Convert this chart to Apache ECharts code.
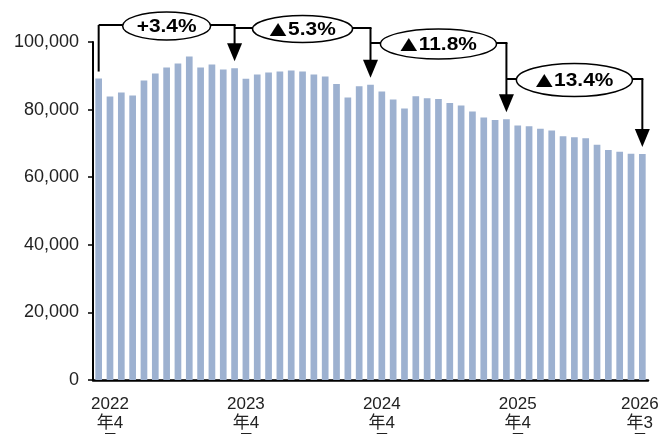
<!DOCTYPE html>
<html>
<head>
    <meta charset="utf-8">
    <title>月次推移</title>
    <style>
        html, body { margin: 0; padding: 0; background: #fff; }
        #chart { width: 659px; height: 434px; }
    </style>
</head>
<body>
<div id="chart"></div>
<script src="https://cdn.jsdelivr.net/npm/echarts@6/dist/echarts.min.js"></script>
<script>
    // 月（2022年3月〜2026年3月）
    var months = [
        '2022年3月', '2022年4月', '2022年5月', '2022年6月', '2022年7月', '2022年8月', '2022年9月',
        '2022年10月', '2022年11月', '2022年12月', '2023年1月', '2023年2月', '2023年3月',
        '2023年4月', '2023年5月', '2023年6月', '2023年7月', '2023年8月', '2023年9月',
        '2023年10月', '2023年11月', '2023年12月', '2024年1月', '2024年2月', '2024年3月',
        '2024年4月', '2024年5月', '2024年6月', '2024年7月', '2024年8月', '2024年9月',
        '2024年10月', '2024年11月', '2024年12月', '2025年1月', '2025年2月', '2025年3月',
        '2025年4月', '2025年5月', '2025年6月', '2025年7月', '2025年8月', '2025年9月',
        '2025年10月', '2025年11月', '2025年12月', '2026年1月', '2026年2月', '2026年3月'
    ];
    var values = [
        89190, 83850, 85040, 84150, 88590, 90670, 92440, 93630, 95700, 92440, 93330, 91850, 92240,
        89100, 90370, 90960, 91260, 91560, 91260, 90370, 89780, 87600, 83560, 86900, 87350,
        85330, 82960, 80300, 83940, 83350, 83170, 81980, 81190, 79410, 77630, 76950, 77130,
        75260, 75050, 74370, 73780, 72090, 71790, 71500, 69630, 68060, 67560, 66960, 66870
    ];
    var shownLabels = ['2022年4月', '2023年4月', '2024年4月', '2025年4月', '2026年3月'];
    var yTicks = [0, 20000, 40000, 60000, 80000, 100000];

    // 前年同月比
    var changeFrom = [0, 12, 24, 36];
    var changeTo = [12, 24, 36, 48];
    var changeText = ['+3.4%', '▲5.3%', '▲11.8%', '▲13.4%'];

    var myChart = echarts.init(document.getElementById('chart'));

    var option = {
        animation: false,
        grid: { left: 93, right: 11, top: 42, bottom: 54, outerBoundsMode: 'none' },
        xAxis: {
            type: 'category',
            data: months,
            axisLine: { lineStyle: { color: '#000', width: 2.5 } },
            axisTick: { show: false },
            axisLabel: {
                interval: function (i, v) { return shownLabels.indexOf(v) >= 0; },
                formatter: function (v, i) {
                    var p = v.split('年');
                    var lines = [p[0], '年' + p[1].replace('月', ''), '月'];
                    var s = i === months.length - 1 ? 'e' : 'n';
                    return lines.map(function (l) { return '{' + s + '|' + l + '}'; }).join('\n');
                },
                color: '#222',
                fontFamily: 'Liberation Sans, Arial, Noto Sans CJK JP',
                fontSize: 17,
                lineHeight: 19,
                margin: 15,
                hideOverlap: false,
                rich: {
                    n: { fontSize: 17, lineHeight: 19 },
                    e: { fontSize: 17, lineHeight: 19, padding: [0, 5, 0, 0] }
                }
            }
        },
        yAxis: {
            type: 'value',
            min: yTicks[0],
            max: yTicks[yTicks.length - 1],
            interval: yTicks[1] - yTicks[0],
            axisLine: { show: true, lineStyle: { color: '#000', width: 2 } },
            axisTick: { show: true, length: 5, lineStyle: { color: '#000', width: 1.5 } },
            splitLine: { show: false },
            axisLabel: {
                formatter: function (v) { return v.toLocaleString('en-US'); },
                color: '#222',
                fontFamily: 'Liberation Sans, Arial',
                fontSize: 18,
                margin: 14
            }
        },
        series: [{
            type: 'bar',
            data: values,
            barWidth: '59%',
            itemStyle: { color: '#9db1d0' }
        }]
    };
    myChart.setOption(option);

    // 矢印・楕円
    var levels = [25, 28, 43, 79];
    var radii = [[44, 14], [50, 13.5], [58, 15], [58, 16.5]];
    var gap = 7;
    var black = '#000';
    var g = [];
    function px(i, v) { return myChart.convertToPixel({ seriesIndex: 0 }, [i, v]); }
    for (var k = 0; k < changeFrom.length; k++) {
        var a = px(changeFrom[k], values[changeFrom[k]]);
        var b = px(changeTo[k], values[changeTo[k]]);
        var L = levels[k];
        var tipY = b[1] - gap;
        if (k === 0) {
            g.push({ type: 'line', shape: { x1: a[0], y1: a[1] - gap, x2: a[0], y2: L }, style: { stroke: black, lineWidth: 2 } });
        }
        g.push({ type: 'line', shape: { x1: a[0], y1: L, x2: b[0] + 1, y2: L }, style: { stroke: black, lineWidth: 2 } });
        g.push({ type: 'line', shape: { x1: b[0], y1: L, x2: b[0], y2: tipY - 16 }, style: { stroke: black, lineWidth: 2 } });
        g.push({ type: 'polygon', shape: { points: [[b[0] - 7.5, tipY - 18], [b[0] + 7.5, tipY - 18], [b[0], tipY]] }, style: { fill: black } });
        var cx = (a[0] + b[0]) / 2;
        g.push({ type: 'ellipse', shape: { cx: cx, cy: L + 1, rx: radii[k][0], ry: radii[k][1] }, style: { fill: '#fff', stroke: black, lineWidth: 1.5 }, z: 10 });
        var t = changeText[k];
        var txt = t.charAt(0) === '▲' ? '{m|▲}' + t.slice(1) : t;
        g.push({
            type: 'text', x: cx, y: L + 2, z: 11, scaleX: 1.1, originX: 0, originY: 0,
            style: {
                text: txt, fill: black, align: 'center', verticalAlign: 'middle',
                fontFamily: '"Liberation Sans", Arial', fontWeight: 'bold', fontSize: 19,
                rich: {
                    m: { fontFamily: '"Noto Sans CJK JP"', fontSize: 16, fontWeight: 'normal', fill: black, padding: [0, 1, 0, 0] }
                }
            }
        });
    }
    myChart.setOption({ graphic: g });
</script>
</body>
</html>
